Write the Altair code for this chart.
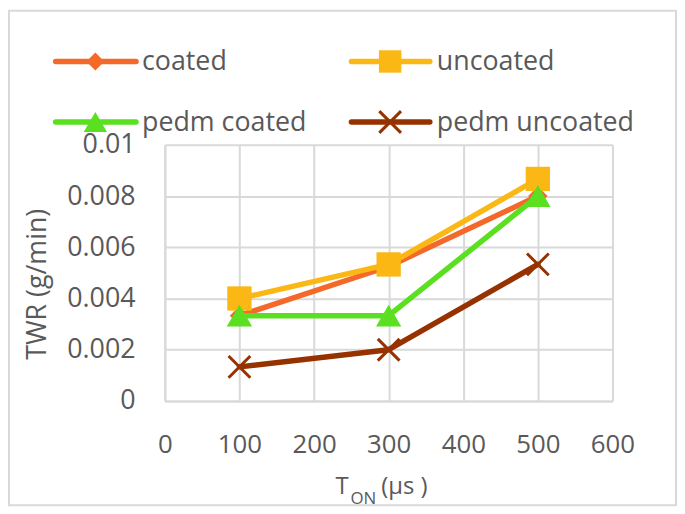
import altair as alt
import pandas as pd

# ---- data ----
t_on = [100, 300, 500]
series_names = ["coated", "uncoated", "pedm coated", "pedm uncoated"]
coated = [0.00333, 0.00525, 0.0080]
uncoated = [0.0040, 0.00533, 0.00867]
pedm_coated = [0.00333, 0.00333, 0.0080]
pedm_uncoated = [0.00133, 0.0020, 0.00533]
x_ticks = [0, 100, 200, 300, 400, 500, 600]
y_ticks = [0, 0.002, 0.004, 0.006, 0.008, 0.01]

values = [coated, uncoated, pedm_coated, pedm_uncoated]
colors = ["#F4692A", "#FBB714", "#5AE021", "#963200"]
CROSS = "M-1,-1L1,1M-1,1L1,-1"
shapes = ["diamond", "square", "triangle-up", CROSS]
sizes = [380, 600, 650, 480]

FONT = "Open Sans"
TXT = "#595959"
GRID = "#D9D9D9"
W, H = 451, 258

x_enc = alt.X(
    "t:Q",
    scale=alt.Scale(domain=[0, 600], nice=False),
    axis=alt.Axis(values=x_ticks, title=None, labelFlush=False, labelPadding=31, labelFontSize=26),
)
y_enc = alt.Y(
    "v:Q",
    scale=alt.Scale(domain=[0, 0.01], nice=False),
    axis=alt.Axis(
        values=y_ticks,
        format="~g",
        title="TWR (g/min)",
        titleFontSize=27,
        titleX=-120,
        titleY=140,
        titleAngle=270,
        titleAlign="center",
        titleBaseline="alphabetic",
        labelFlush=False,
        labelPadding=30,
        labelFontSize=27,
    ),
)

layers = []
for name, vals, col, shp, sz in zip(series_names, values, colors, shapes, sizes):
    df = pd.DataFrame({"t": t_on, "v": vals, "series": name})
    base = alt.Chart(df)
    layers.append(
        base.mark_line(color=col, strokeWidth=5.5, strokeCap="round", strokeJoin="round").encode(
            x=x_enc, y=y_enc
        )
    )
    if shp == CROSS:
        pt = base.mark_point(shape=shp, filled=False, strokeWidth=3, size=sz, color=col, opacity=1)
    else:
        pt = base.mark_point(shape=shp, filled=True, size=sz, color=col, opacity=1)
    layers.append(pt.encode(x=x_enc, y=y_enc))

# ---- manual legend (layout positions, in pixels relative to the plot area) ----
cols_x = [(-110, -29, -70, -23), (188, 267, 227, 274)]
rows_y = [-84, -23]
for i, (name, col, shp, sz) in enumerate(zip(series_names, colors, shapes, sizes)):
    x1, x2, mx, tx = cols_x[i % 2]
    yy = rows_y[i // 2]
    one = alt.Chart(pd.DataFrame({"label": [name]}))
    layers.append(
        one.mark_rule(color=col, strokeWidth=5.5, strokeCap="round").encode(
            x=alt.value(x1), x2=alt.value(x2), y=alt.value(yy)
        )
    )
    if shp == CROSS:
        m = one.mark_point(shape=shp, filled=False, strokeWidth=3, size=sz, color=col, opacity=1)
    else:
        m = one.mark_point(shape=shp, filled=True, size=sz * 0.85, color=col, opacity=1)
    layers.append(m.encode(x=alt.value(mx), y=alt.value(yy)))
    layers.append(
        one.mark_text(align="left", baseline="middle", dy=1, font=FONT, fontSize=27, color=TXT).encode(
            x=alt.value(tx), y=alt.value(yy), text="label:N"
        )
    )

# ---- x axis title with subscript ----
title_parts = [("T", 172, 352, 24), ("ON", 187, 362, 17), ("(µs )", 218, 352, 24)]
for txt, tx, ty, fs in title_parts:
    layers.append(
        alt.Chart(pd.DataFrame({"s": [txt]}))
        .mark_text(align="left", baseline="alphabetic", font=FONT, fontSize=fs, color=TXT)
        .encode(x=alt.value(tx), y=alt.value(ty), text="s:N")
    )

# ---- outer chart border ----
layers.append(
    alt.Chart(pd.DataFrame({"a": [0]}))
    .mark_rect(fill=None, stroke=GRID, strokeWidth=2)
    .encode(x=alt.value(-157), x2=alt.value(515), y=alt.value(-135), y2=alt.value(363))
)

chart = (
    alt.layer(*layers)
    .properties(width=W, height=H, padding=0, background="white")
    .configure_view(stroke=None)
    .configure_axis(
        grid=True,
        gridColor=GRID,
        gridWidth=2,
        domainColor=GRID,
        domainWidth=2,
        ticks=False,
        tickSize=0,
        labelFont=FONT,
        labelColor=TXT,
        titleFont=FONT,
        titleColor=TXT,
        titleFontWeight="normal",
    )
)

chart.save("out.html", embed_options={"renderer": "svg", "actions": False})
